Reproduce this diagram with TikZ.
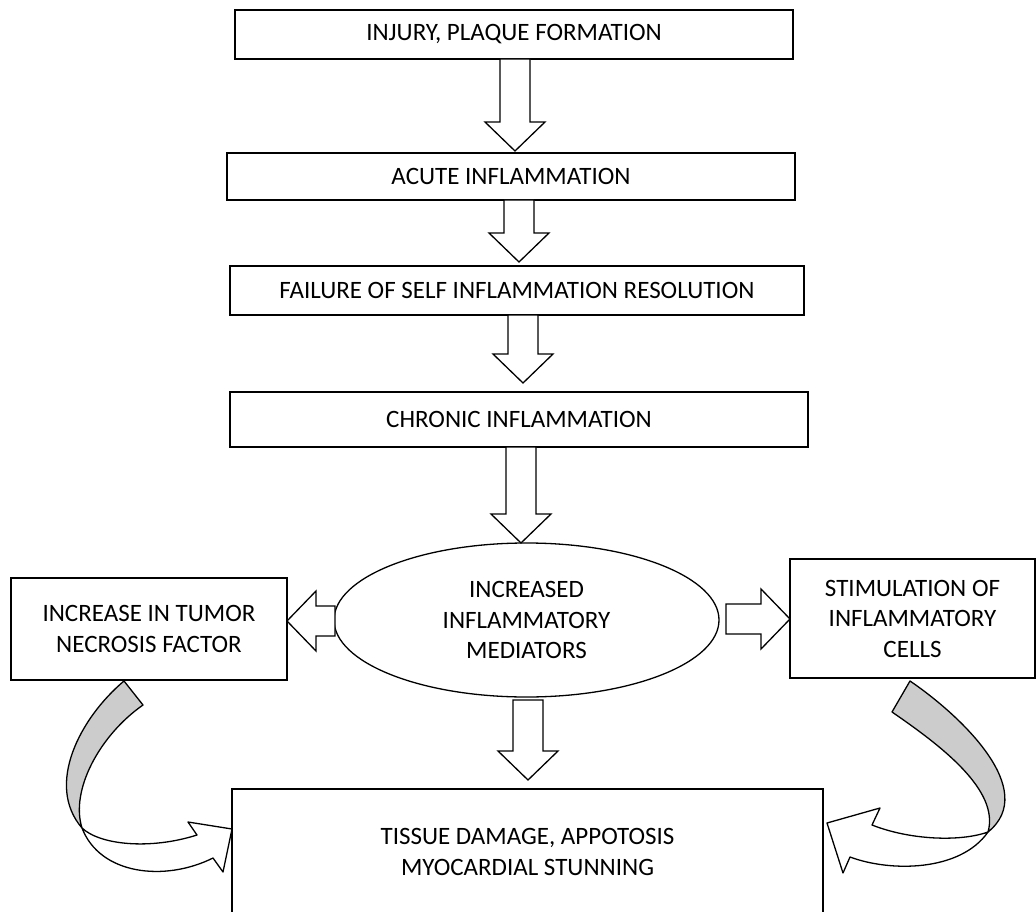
\documentclass[tikz,border=0pt]{standalone}
\usepackage{fontspec}
\setmainfont{Carlito}
\usetikzlibrary{calc,shapes.geometric}

% hollow block arrow from #1 to #2
\newcommand{\blockarrow}[2]{%
    \coordinate (bs) at (#1);
    \coordinate (be) at (#2);
    \draw[fatarrow] ($(bs)!15pt!90:(be)$) -- ($(be)!29pt!(bs)!15pt!90:(be)$)
        -- ($(be)!29pt!(bs)!30pt!90:(be)$) -- (be)
        -- ($(be)!29pt!(bs)!30pt!-90:(be)$) -- ($(be)!29pt!(bs)!15pt!-90:(be)$)
        -- ($(bs)!15pt!-90:(be)$) -- cycle;
}

\begin{document}
\begin{tikzpicture}[x=1pt, y=-1pt,
        every node/.style={font=\fontsize{25}{30.5}\selectfont, align=center, inner sep=0pt, outer sep=0pt},
        stepbox/.style={draw, line width=1.5pt},
        sidebox/.style={draw, line width=2pt},
        fatarrow/.style={draw, fill=white, line width=1.3pt, line join=miter},
        ribbon/.style={draw, line width=1.3pt, line join=round}]
        \useasboundingbox (0,0) rectangle (1036,912);
        \clip (0,0) rectangle (1036,912);

        \node[stepbox, minimum width=558pt, minimum height=49pt] (inj) at (514,34.5) {INJURY, PLAQUE FORMATION};
        \node[stepbox, minimum width=568pt, minimum height=47pt] (acute) at (511,176.5) {ACUTE INFLAMMATION};
        \node[stepbox, minimum width=574pt, minimum height=49pt] (fail) at (517,290.5) {FAILURE OF SELF INFLAMMATION RESOLUTION};
        \node[stepbox, minimum width=578pt, minimum height=55pt] (chron) at (519,419.5) {CHRONIC INFLAMMATION};
        \node[draw, ellipse, line width=1.3pt, minimum width=385pt, minimum height=154pt] (med) at (526.5,620)
            {INCREASED\\INFLAMMATORY\\MEDIATORS};
        \node[sidebox, minimum width=276pt, minimum height=102pt] (tnf) at (149,629) {INCREASE IN TUMOR\\NECROSIS FACTOR};
        \node[sidebox, minimum width=245pt, minimum height=119pt] (stim) at (912.5,618.5) {STIMULATION OF\\INFLAMMATORY\\CELLS};
        \node[stepbox, minimum width=591pt, minimum height=126pt] (dmg) at (527.5,852)
            {TISSUE DAMAGE, APPOTOSIS\\MYOCARDIAL STUNNING};

        \blockarrow{$(inj.south)+(1,0)$}{$(acute.north)+(4,-2)$}
        \blockarrow{$(acute.south)+(8,0)$}{$(fail.north)+(2,-4)$}
        \blockarrow{$(fail.south)+(6,0)$}{$(chron.north)+(4,-9)$}
        \blockarrow{$(chron.south)+(2,0)$}{$(med.north)+(-5.5,0)$}
        \blockarrow{$(med.south)+(1.5,3)$}{$(dmg.north)+(0.5,-9)$}
        \blockarrow{$(med.west)+(1,1)$}{$(tnf.east)+(0,-8)$}
        \blockarrow{$(med.east)+(7,-1)$}{$(stim.west)+(0,0.5)$}

        % curved arrows into the damage box
        \draw[ribbon, fill=gray!40] (124,681) -- (143,705) .. controls (100,735) and (70,790) .. (82,828)
            .. controls (45,785) and (80,718) .. (124,681) -- cycle;
        \draw[ribbon, fill=white] (82,828) .. controls (100,845) and (150,850) .. (197,835) -- (188,822)
            -- (232,829) -- (223,872) -- (213,858) .. controls (165,882) and (100,875) .. (82,828) -- cycle;
        \draw[ribbon, fill=gray!40] (910,681) -- (892,712) .. controls (940,745) and (1000,790) .. (988,832)
            .. controls (1040,790) and (960,715) .. (910,681) -- cycle;
        \draw[ribbon, fill=white] (988,832) .. controls (960,842) and (910,840) .. (872,825) -- (880,808)
            -- (827,823) -- (843,873) -- (850,857) .. controls (890,872) and (960,872) .. (988,832) -- cycle;
    \end{tikzpicture}
\end{document}
